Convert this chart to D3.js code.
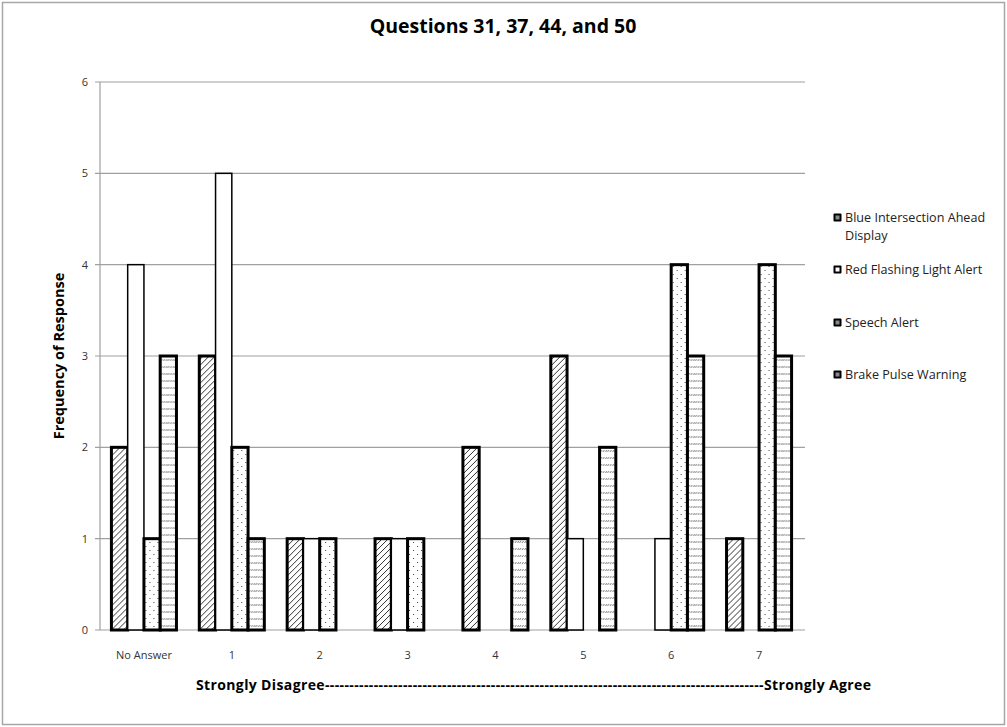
<html>
<head>
<meta charset="utf-8">
<title>Questions 31, 37, 44, and 50</title>
<script src="https://d3js.org/d3.v7.min.js"></script>
<style>
  body { margin: 0; background: #fff; }
  text { font-family: "Open Sans", "Noto Sans", sans-serif; }
</style>
</head>
<body>
<svg width="1007" height="727"></svg>
<script>
// data
var categories = ["No Answer", "1", "2", "3", "4", "5", "6", "7"];
var seriesNames = ["Blue Intersection Ahead Display", "Red Flashing Light Alert", "Speech Alert", "Brake Pulse Warning"];
var blueDisplay = [2, 3, 1, 1, 2, 3, 0, 1];
var redFlashing = [4, 5, 1, 1, 0, 1, 1, 0];
var speechAlert = [1, 2, 1, 1, 0, 0, 4, 4];
var brakePulse  = [3, 1, 0, 0, 1, 2, 3, 3];
var yTicks = [0, 1, 2, 3, 4, 5, 6];

var seriesValues = [blueDisplay, redFlashing, speechAlert, brakePulse];
var fills = ["url(#hatch)", "#fff", "url(#dots)", "url(#dashes)"];
var strokeW = [3, 1.5, 3, 3];

var svg = d3.select("svg");
var W = 1007, H = 727;

// outer border
svg.append("rect").attr("x", 2.5).attr("y", 2.5).attr("width", W - 5).attr("height", H - 5)
  .attr("fill", "#fff").attr("stroke", "#a6a6a6").attr("stroke-width", 1.5);

// patterns
var defs = svg.append("defs");
var p1 = defs.append("pattern").attr("id", "hatch").attr("patternUnits", "userSpaceOnUse")
  .attr("width", 6).attr("height", 6);
p1.append("rect").attr("width", 6).attr("height", 6).attr("fill", "#fff");
p1.append("path").attr("d", "M0,6 L6,0 M-1,1 L1,-1 M5,7 L7,5").attr("stroke", "#333").attr("stroke-width", 1);

var p2 = defs.append("pattern").attr("id", "dots").attr("patternUnits", "userSpaceOnUse")
  .attr("width", 8).attr("height", 8);
p2.append("rect").attr("width", 8).attr("height", 8).attr("fill", "#fff");
p2.append("rect").attr("x", 2).attr("y", 2).attr("width", 1).attr("height", 1).attr("fill", "#444");
p2.append("rect").attr("x", 6).attr("y", 6).attr("width", 1).attr("height", 1).attr("fill", "#444");

var p3 = defs.append("pattern").attr("id", "dashes").attr("patternUnits", "userSpaceOnUse")
  .attr("width", 7).attr("height", 7);
p3.append("rect").attr("width", 7).attr("height", 7).attr("fill", "#fff");
p3.append("path").attr("d", "M0.5,4 L2,2 M3,4 L4.5,2 M5.5,4 L7,2").attr("stroke", "#555").attr("stroke-width", 0.8);

var x0 = d3.scaleBand().domain(categories).range([100, 803])
  .paddingInner(0.26).paddingOuter(0.13);
var x1 = d3.scaleBand().domain(d3.range(4)).range([0, x0.bandwidth()]);
var y = d3.scaleLinear().domain([0, 6]).range([630, 82]);

// gridlines
svg.append("g").selectAll("line").data(yTicks).enter().append("line")
  .attr("x1", 95).attr("x2", 805)
  .attr("y1", d => y(d)).attr("y2", d => y(d))
  .attr("stroke", "#a0a0a0").attr("stroke-width", 1.2);

// y axis
svg.append("line").attr("x1", 100).attr("x2", 100).attr("y1", y(6)).attr("y2", y(0))
  .attr("stroke", "#a0a0a0").attr("stroke-width", 1.2);
svg.append("g").selectAll("text").data(yTicks).enter().append("text")
  .attr("x", 85).attr("y", d => y(d) + 4).attr("text-anchor", "middle")
  .style("font-size", "11px").attr("fill", "#333").text(d => d);

// bars
var groups = svg.append("g").selectAll("g").data(categories).enter().append("g")
  .attr("transform", d => `translate(${x0(d)},0)`);
groups.selectAll("rect")
  .data((c, i) => seriesValues.map((s, k) => ({k: k, v: s[i]})).filter(d => d.v > 0))
  .enter().append("rect")
  .attr("x", d => x1(d.k))
  .attr("y", d => y(d.v))
  .attr("width", x1.bandwidth())
  .attr("height", d => y(0) - y(d.v))
  .attr("fill", d => fills[d.k])
  .attr("stroke", "#000")
  .attr("stroke-width", d => strokeW[d.k]);

// x labels
svg.append("g").selectAll("text").data(categories).enter().append("text")
  .attr("x", d => x0(d) + x0.bandwidth() / 2).attr("y", 659)
  .attr("text-anchor", "middle").style("font-size", "11px").attr("fill", "#333")
  .text(d => d);

// titles
svg.append("text").attr("x", 503).attr("y", 33).attr("text-anchor", "middle")
  .style("font-size", "19.5px").style("font-weight", "bold").text("Questions 31, 37, 44, and 50");

svg.append("text").attr("transform", "translate(64,356) rotate(-90)").attr("text-anchor", "middle")
  .style("font-size", "14.5px").style("font-weight", "bold").text("Frequency of Response");

svg.append("text").attr("x", 196).attr("y", 690)
  .attr("textLength", 675).attr("lengthAdjust", "spacing")
  .style("font-size", "14px").style("font-weight", "bold")
  .text("Strongly Disagree" + "-".repeat(90) + "Strongly Agree");

// legend
var legendY = [218, 270, 323, 375];
var leg = svg.append("g").selectAll("g").data(seriesNames).enter().append("g")
  .attr("transform", (d, i) => `translate(833,${legendY[i]})`);
leg.append("rect").attr("x", 0.5).attr("y", -4.5).attr("width", 8).attr("height", 8)
  .attr("fill", "#000").attr("rx", 1);
leg.append("rect").attr("x", 2.5).attr("y", -2.5).attr("width", 4).attr("height", 4)
  .attr("fill", (d, i) => i === 1 ? "#fff" : "#888");
var lt = leg.append("text").attr("x", 12).attr("y", 4).style("font-size", "12.6px").attr("fill", "#222");
lt.each(function(d) {
  var t = d3.select(this);
  if (d === "Blue Intersection Ahead Display") {
    t.append("tspan").attr("x", 12).text("Blue Intersection Ahead");
    t.append("tspan").attr("x", 12).attr("dy", 18).text("Display");
  } else {
    t.text(d);
  }
});
</script>
</body>
</html>
